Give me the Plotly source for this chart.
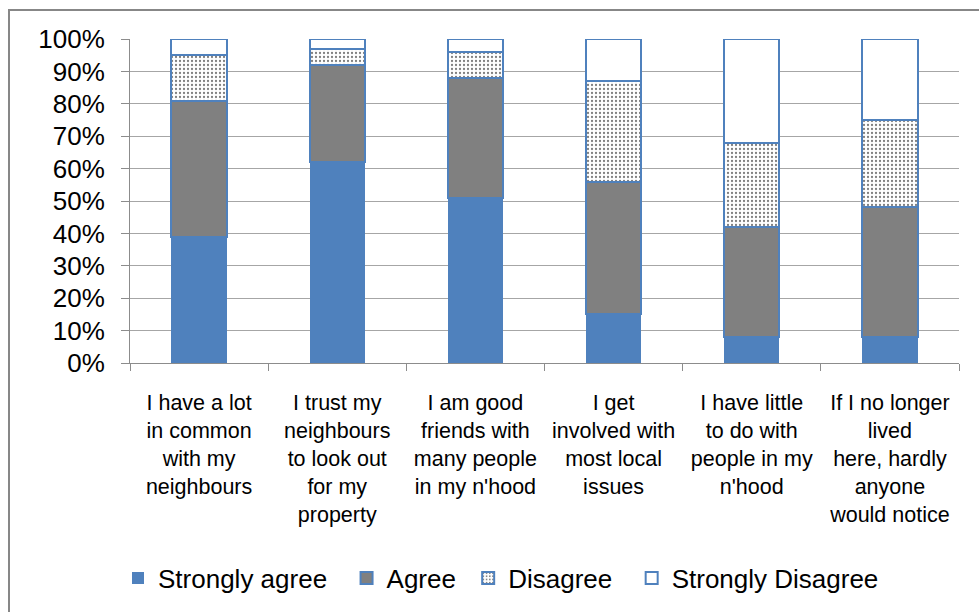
import plotly.graph_objects as go

categories = [
    "I have a lot<br>in common<br>with my<br>neighbours",
    "I trust my<br>neighbours<br>to look out<br>for my<br>property",
    "I am good<br>friends with<br>many people<br>in my n'hood",
    "I get<br>involved with<br>most local<br>issues",
    "I have little<br>to do with<br>people in my<br>n'hood",
    "If I no longer<br>lived<br>here, hardly<br>anyone<br>would notice",
]
series_names = ["Strongly agree", "Agree", "Disagree", "Strongly Disagree"]
strongly_agree = [39, 62, 51, 15, 8, 8]
agree = [42, 30, 37, 41, 34, 40]
disagree = [14, 5, 8, 31, 26, 27]
strongly_disagree = [5, 3, 4, 13, 32, 25]
y_ticks = [0, 10, 20, 30, 40, 50, 60, 70, 80, 90, 100]
y_tick_labels = ["0%", "10%", "20%", "30%", "40%", "50%", "60%", "70%", "80%", "90%", "100%"]

BLUE = "#4F81BD"
GRAY = "#808080"
FONT = "Liberation Sans"
NB = "\u00a0"

W, H = 979, 612
ML, MR, MT, MB = 130, 20, 39, 248
pw, ph = W - ML - MR, H - MT - MB

# legend spacing padding (non-breaking spaces) to mimic Excel legend gaps
pads = [2, 1, 2, 0]

fig = go.Figure()
fig.add_trace(go.Bar(name=series_names[0] + NB * pads[0], x=categories, y=strongly_agree,
                     marker=dict(color=BLUE, line=dict(color=BLUE, width=0))))
fig.add_trace(go.Bar(name=series_names[1] + NB * pads[1], x=categories, y=agree,
                     marker=dict(color=GRAY, line=dict(color=BLUE, width=2))))
fig.add_trace(go.Bar(name=series_names[2] + NB * pads[2], x=categories, y=disagree,
                     marker=dict(color="white", line=dict(color=BLUE, width=2),
                                 pattern=dict(shape=".", fgcolor="black", bgcolor="white",
                                              size=4, solidity=0.25))))
fig.add_trace(go.Bar(name=series_names[3] + NB * pads[3], x=categories, y=strongly_disagree,
                     marker=dict(color="white", line=dict(color=BLUE, width=2))))
for t in fig.data:
    t.cliponaxis = False

def px_to_paper_x(px):
    return (px - ML) / pw

def px_to_paper_y(py):
    return (H - MB - py) / ph

fig.update_layout(
    width=W, height=H,
    margin=dict(l=ML, r=MR, t=MT, b=MB),
    barmode="stack",
    bargap=0.6,
    plot_bgcolor="white", paper_bgcolor="white",
    font=dict(family=FONT, color="black", size=22),
    showlegend=True,
    legend=dict(orientation="h", x=px_to_paper_x(118), xanchor="left",
                y=px_to_paper_y(578), yanchor="middle",
                font=dict(size=26, family=FONT, color="black"),
                traceorder="normal", itemwidth=30),
    xaxis=dict(showline=True, linecolor="#8c8c8c", linewidth=1,
               ticks="outside", tickson="boundaries", ticklen=7, tickcolor="#8c8c8c",
               tickfont=dict(size=21.5, family=FONT, color="black"),
               ticklabelstandoff=20, tickangle=0, showgrid=False),
    yaxis=dict(range=[0, 100], tickmode="array", tickvals=y_ticks, ticktext=y_tick_labels,
               showline=True, linecolor="#8c8c8c", linewidth=1,
               ticks="outside", ticklen=8, tickcolor="#8c8c8c",
               tickfont=dict(size=26, family=FONT, color="black"),
               ticklabelstandoff=11,
               showgrid=True, gridcolor="#a6a6a6", gridwidth=1, zeroline=False),
    shapes=[dict(type="rect", xref="paper", yref="paper",
                 x0=px_to_paper_x(9), x1=px_to_paper_x(1010),
                 y0=px_to_paper_y(640), y1=px_to_paper_y(10),
                 line=dict(color="#878787", width=2), fillcolor="rgba(0,0,0,0)",
                 layer="below")],
)

fig.write_html("out.html")
